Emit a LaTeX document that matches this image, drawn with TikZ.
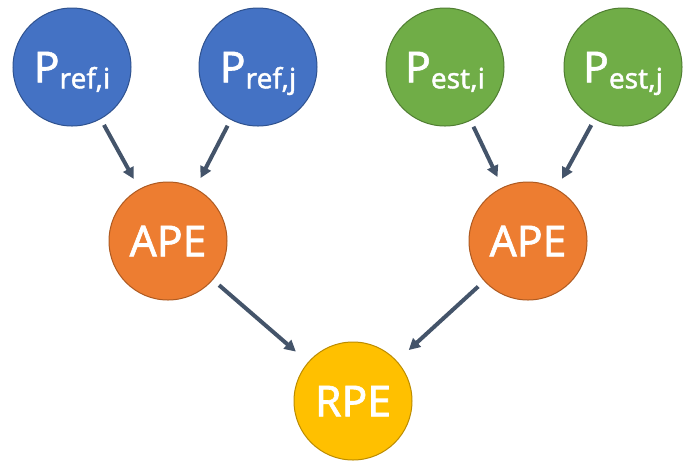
\documentclass[tikz,border=0pt]{standalone}
\usepackage{fontspec}
\setmainfont{Noto Sans}
\newfontfamily\lblfont[FakeBold=1.4]{Noto Sans}
\usetikzlibrary{arrows.meta}
\definecolor{bluefill}{HTML}{4472C4}
\definecolor{blueline}{HTML}{2F528F}
\definecolor{greenfill}{HTML}{70AD47}
\definecolor{greenline}{HTML}{507E32}
\definecolor{orangefill}{HTML}{ED7D31}
\definecolor{orangeline}{HTML}{AE5A21}
\definecolor{yellowfill}{HTML}{FFC000}
\definecolor{yellowline}{HTML}{BC8C00}
\definecolor{arrowcol}{HTML}{44546A}
\newcommand\subtxt[1]{\raisebox{-4.5pt}{\fontsize{21}{21}\selectfont #1}}
\tikzset{
  circ/.style={circle, minimum size=88.5pt, inner sep=0pt, line width=0.75pt,
    text=white, font=\lblfont\fontsize{32}{32}\selectfont, text height=23pt, text depth=0pt},
  bluec/.style={circ, fill=bluefill, draw=blueline},
  greenc/.style={circ, fill=greenfill, draw=greenline},
  orangec/.style={circ, fill=orangefill, draw=orangeline},
  yellowc/.style={circ, fill=yellowfill, draw=yellowline},
  conn/.style={draw=arrowcol, line width=3pt, -{Triangle[length=8.5pt,width=8.5pt]}},
}
\begin{document}
\begin{tikzpicture}[x=0.75pt,y=-0.75pt]
\useasboundingbox (0,0) rectangle (689,462);
\node[bluec] (ri) at (72,67) {P\subtxt{ref,i}};
\node[bluec] (rj) at (258,67) {P\subtxt{ref,j}};
\node[greenc] (ei) at (445,67) {P\subtxt{est,i}};
\node[greenc] (ej) at (623,67) {P\subtxt{est,j}};
\node[orangec] (al) at (168,241) {APE};
\node[orangec] (ar) at (528,241) {APE};
\node[yellowc] (rpe) at (353,401) {RPE};
\draw[conn, shorten <=5pt, shorten >=8.5pt] (ri) -- (al);
\draw[conn, shorten <=5pt, shorten >=8.5pt] (rj) -- (al);
\draw[conn, shorten <=5pt, shorten >=8.5pt] (ei) -- (ar);
\draw[conn, shorten <=5pt, shorten >=8.5pt] (ej) -- (ar);
\draw[conn, shorten <=6pt, shorten >=12pt] (al) -- (rpe);
\draw[conn, shorten <=6pt, shorten >=12pt] (ar) -- (rpe);
\end{tikzpicture}
\end{document}
